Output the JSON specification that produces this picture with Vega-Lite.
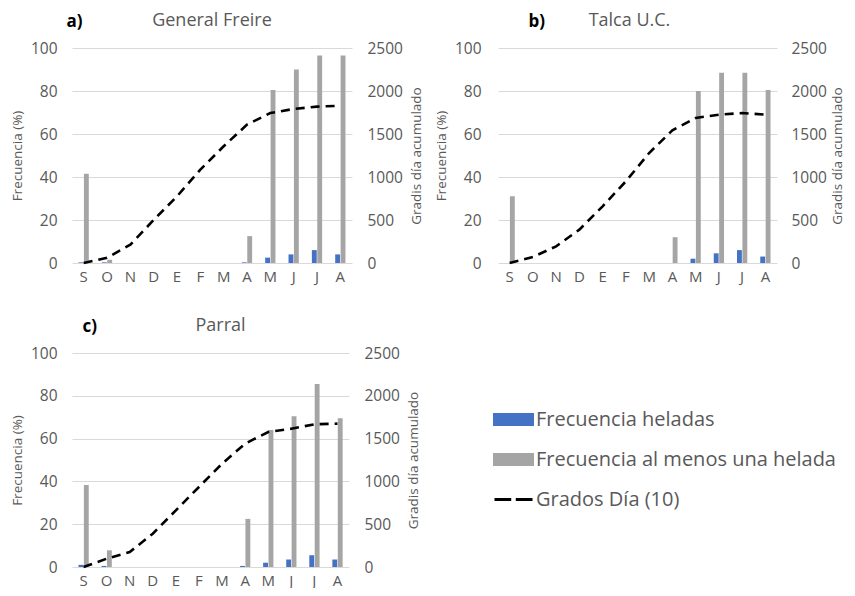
{
  "$schema": "https://vega.github.io/schema/vega-lite/v6.json",
  "background": "white",
  "padding": {"left": 10, "top": 12, "right": 0, "bottom": 0},
  "config": {
    "font": "Open Sans",
    "view": {"stroke": null},
    "axis": {"labelColor": "#595959", "labelFontSize": 15.5, "titleColor": "#595959", "titleFontSize": 13.5, "titleFontWeight": "normal", "ticks": false, "domain": false, "gridColor": "#d9d9d9"},
    "title": {"color": "#595959", "fontSize": 18, "fontWeight": "normal"},
    "legend": {
      "orient": "none", "legendX": 421, "legendY": 351, "title": null,
      "labelFontSize": 20, "labelColor": "#595959", "symbolSize": 1444, "rowPadding": 8, "labelOffset": 2, "padding": 0,
      "labelLimit": 400
    }
  },
  "datasets": {
    "freq": [
      {"site": "a", "mes": "Sep", "serie": "Frecuencia heladas", "valor": 0.3},
      {"site": "a", "mes": "Oct", "serie": "Frecuencia heladas", "valor": 0.3},
      {"site": "a", "mes": "Nov", "serie": "Frecuencia heladas", "valor": 0},
      {"site": "a", "mes": "Dic", "serie": "Frecuencia heladas", "valor": 0},
      {"site": "a", "mes": "Ene", "serie": "Frecuencia heladas", "valor": 0},
      {"site": "a", "mes": "Feb", "serie": "Frecuencia heladas", "valor": 0},
      {"site": "a", "mes": "Mar", "serie": "Frecuencia heladas", "valor": 0},
      {"site": "a", "mes": "Abr", "serie": "Frecuencia heladas", "valor": 0.3},
      {"site": "a", "mes": "May", "serie": "Frecuencia heladas", "valor": 2.5},
      {"site": "a", "mes": "Jun", "serie": "Frecuencia heladas", "valor": 4},
      {"site": "a", "mes": "Jul", "serie": "Frecuencia heladas", "valor": 6},
      {"site": "a", "mes": "Ago", "serie": "Frecuencia heladas", "valor": 4},
      {"site": "a", "mes": "Sep", "serie": "Frecuencia al menos una helada", "valor": 41.5},
      {"site": "a", "mes": "Oct", "serie": "Frecuencia al menos una helada", "valor": 1.5},
      {"site": "a", "mes": "Nov", "serie": "Frecuencia al menos una helada", "valor": 0},
      {"site": "a", "mes": "Dic", "serie": "Frecuencia al menos una helada", "valor": 0},
      {"site": "a", "mes": "Ene", "serie": "Frecuencia al menos una helada", "valor": 0},
      {"site": "a", "mes": "Feb", "serie": "Frecuencia al menos una helada", "valor": 0},
      {"site": "a", "mes": "Mar", "serie": "Frecuencia al menos una helada", "valor": 0},
      {"site": "a", "mes": "Abr", "serie": "Frecuencia al menos una helada", "valor": 12.5},
      {"site": "a", "mes": "May", "serie": "Frecuencia al menos una helada", "valor": 80.5},
      {"site": "a", "mes": "Jun", "serie": "Frecuencia al menos una helada", "valor": 90},
      {"site": "a", "mes": "Jul", "serie": "Frecuencia al menos una helada", "valor": 96.5},
      {"site": "a", "mes": "Ago", "serie": "Frecuencia al menos una helada", "valor": 96.5},
      {"site": "b", "mes": "Sep", "serie": "Frecuencia heladas", "valor": 0},
      {"site": "b", "mes": "Oct", "serie": "Frecuencia heladas", "valor": 0},
      {"site": "b", "mes": "Nov", "serie": "Frecuencia heladas", "valor": 0},
      {"site": "b", "mes": "Dic", "serie": "Frecuencia heladas", "valor": 0},
      {"site": "b", "mes": "Ene", "serie": "Frecuencia heladas", "valor": 0},
      {"site": "b", "mes": "Feb", "serie": "Frecuencia heladas", "valor": 0},
      {"site": "b", "mes": "Mar", "serie": "Frecuencia heladas", "valor": 0},
      {"site": "b", "mes": "Abr", "serie": "Frecuencia heladas", "valor": 0},
      {"site": "b", "mes": "May", "serie": "Frecuencia heladas", "valor": 2},
      {"site": "b", "mes": "Jun", "serie": "Frecuencia heladas", "valor": 4.5},
      {"site": "b", "mes": "Jul", "serie": "Frecuencia heladas", "valor": 6},
      {"site": "b", "mes": "Ago", "serie": "Frecuencia heladas", "valor": 3},
      {"site": "b", "mes": "Sep", "serie": "Frecuencia al menos una helada", "valor": 31},
      {"site": "b", "mes": "Oct", "serie": "Frecuencia al menos una helada", "valor": 0},
      {"site": "b", "mes": "Nov", "serie": "Frecuencia al menos una helada", "valor": 0},
      {"site": "b", "mes": "Dic", "serie": "Frecuencia al menos una helada", "valor": 0},
      {"site": "b", "mes": "Ene", "serie": "Frecuencia al menos una helada", "valor": 0},
      {"site": "b", "mes": "Feb", "serie": "Frecuencia al menos una helada", "valor": 0},
      {"site": "b", "mes": "Mar", "serie": "Frecuencia al menos una helada", "valor": 0},
      {"site": "b", "mes": "Abr", "serie": "Frecuencia al menos una helada", "valor": 12},
      {"site": "b", "mes": "May", "serie": "Frecuencia al menos una helada", "valor": 80},
      {"site": "b", "mes": "Jun", "serie": "Frecuencia al menos una helada", "valor": 88.5},
      {"site": "b", "mes": "Jul", "serie": "Frecuencia al menos una helada", "valor": 88.5},
      {"site": "b", "mes": "Ago", "serie": "Frecuencia al menos una helada", "valor": 80.5},
      {"site": "c", "mes": "Sep", "serie": "Frecuencia heladas", "valor": 1},
      {"site": "c", "mes": "Oct", "serie": "Frecuencia heladas", "valor": 0.5},
      {"site": "c", "mes": "Nov", "serie": "Frecuencia heladas", "valor": 0},
      {"site": "c", "mes": "Dic", "serie": "Frecuencia heladas", "valor": 0},
      {"site": "c", "mes": "Ene", "serie": "Frecuencia heladas", "valor": 0},
      {"site": "c", "mes": "Feb", "serie": "Frecuencia heladas", "valor": 0},
      {"site": "c", "mes": "Mar", "serie": "Frecuencia heladas", "valor": 0},
      {"site": "c", "mes": "Abr", "serie": "Frecuencia heladas", "valor": 0.5},
      {"site": "c", "mes": "May", "serie": "Frecuencia heladas", "valor": 2},
      {"site": "c", "mes": "Jun", "serie": "Frecuencia heladas", "valor": 3.5},
      {"site": "c", "mes": "Jul", "serie": "Frecuencia heladas", "valor": 5.5},
      {"site": "c", "mes": "Ago", "serie": "Frecuencia heladas", "valor": 3.5},
      {"site": "c", "mes": "Sep", "serie": "Frecuencia al menos una helada", "valor": 38.3},
      {"site": "c", "mes": "Oct", "serie": "Frecuencia al menos una helada", "valor": 7.8},
      {"site": "c", "mes": "Nov", "serie": "Frecuencia al menos una helada", "valor": 0},
      {"site": "c", "mes": "Dic", "serie": "Frecuencia al menos una helada", "valor": 0},
      {"site": "c", "mes": "Ene", "serie": "Frecuencia al menos una helada", "valor": 0},
      {"site": "c", "mes": "Feb", "serie": "Frecuencia al menos una helada", "valor": 0},
      {"site": "c", "mes": "Mar", "serie": "Frecuencia al menos una helada", "valor": 0},
      {"site": "c", "mes": "Abr", "serie": "Frecuencia al menos una helada", "valor": 22.5},
      {"site": "c", "mes": "May", "serie": "Frecuencia al menos una helada", "valor": 64},
      {"site": "c", "mes": "Jun", "serie": "Frecuencia al menos una helada", "valor": 70.5},
      {"site": "c", "mes": "Jul", "serie": "Frecuencia al menos una helada", "valor": 85.5},
      {"site": "c", "mes": "Ago", "serie": "Frecuencia al menos una helada", "valor": 69.5}
    ],
    "gd": [
      {"site": "a", "mes": "Sep", "gd": 0},
      {"site": "a", "mes": "Oct", "gd": 60},
      {"site": "a", "mes": "Nov", "gd": 213},
      {"site": "a", "mes": "Dic", "gd": 500},
      {"site": "a", "mes": "Ene", "gd": 775},
      {"site": "a", "mes": "Feb", "gd": 1085},
      {"site": "a", "mes": "Mar", "gd": 1357},
      {"site": "a", "mes": "Abr", "gd": 1609},
      {"site": "a", "mes": "May", "gd": 1744},
      {"site": "a", "mes": "Jun", "gd": 1791},
      {"site": "a", "mes": "Jul", "gd": 1818},
      {"site": "a", "mes": "Ago", "gd": 1829},
      {"site": "b", "mes": "Sep", "gd": 0},
      {"site": "b", "mes": "Oct", "gd": 70},
      {"site": "b", "mes": "Nov", "gd": 194},
      {"site": "b", "mes": "Dic", "gd": 388},
      {"site": "b", "mes": "Ene", "gd": 659},
      {"site": "b", "mes": "Feb", "gd": 950},
      {"site": "b", "mes": "Mar", "gd": 1279},
      {"site": "b", "mes": "Abr", "gd": 1543},
      {"site": "b", "mes": "May", "gd": 1686},
      {"site": "b", "mes": "Jun", "gd": 1725},
      {"site": "b", "mes": "Jul", "gd": 1744},
      {"site": "b", "mes": "Ago", "gd": 1725},
      {"site": "c", "mes": "Sep", "gd": 0},
      {"site": "c", "mes": "Oct", "gd": 97},
      {"site": "c", "mes": "Nov", "gd": 175},
      {"site": "c", "mes": "Dic", "gd": 389},
      {"site": "c", "mes": "Ene", "gd": 662},
      {"site": "c", "mes": "Feb", "gd": 935},
      {"site": "c", "mes": "Mar", "gd": 1207},
      {"site": "c", "mes": "Abr", "gd": 1441},
      {"site": "c", "mes": "May", "gd": 1577},
      {"site": "c", "mes": "Jun", "gd": 1616},
      {"site": "c", "mes": "Jul", "gd": 1667},
      {"site": "c", "mes": "Ago", "gd": 1675}
    ]
  },
  "vconcat": [
    {
      "hconcat": [
        {
          "width": 280, "height": 215,
          "title": {"text": "General Freire", "offset": -18},
          "layer": [
            {
              "data": {"name": "freq"},
              "transform": [{"filter": "datum.site === 'a'"}],
              "mark": {"type": "bar"},
              "encoding": {
                "x": {"field": "mes", "type": "nominal", "sort": ["Sep","Oct","Nov","Dic","Ene","Feb","Mar","Abr","May","Jun","Jul","Ago"], "scale": {"paddingInner": 0.56, "paddingOuter": 0.28}, "axis": {"title": null, "labelAngle": 0, "labelExpr": "slice(datum.label, 0, 1)", "labelPadding": 6, "labelFontSize": 15}},
                "xOffset": {"field": "serie", "scale": {"domain": ["Frecuencia heladas", "Frecuencia al menos una helada"], "paddingInner": 0.1, "paddingOuter": 0}},
                "y": {"field": "valor", "type": "quantitative", "scale": {"domain": [0, 100]}, "axis": {"title": "Frecuencia (%)", "titleFontWeight": "normal", "values": [0,20,40,60,80,100], "labelPadding": 15, "titlePadding": 6}},
                "color": {"field": "serie", "type": "nominal", "scale": {"domain": ["Frecuencia heladas", "Frecuencia al menos una helada", "Grados Día (10)"], "range": ["#4472C4", "#A5A5A5", "#000000"]},
                  "legend": {"encode": {"symbols": {"update": {
                    "shape": {"signal": "datum.value === 'Grados Día (10)' ? 'M-1,0H-0.12M0.12,0H1' : 'M-1,-0.26H1V0.26H-1Z'"},
                    "fill": {"signal": "datum.value === 'Frecuencia heladas' ? '#4472C4' : (datum.value === 'Frecuencia al menos una helada' ? '#A5A5A5' : 'transparent')"},
                    "stroke": {"signal": "datum.value === 'Grados Día (10)' ? '#000000' : 'transparent'"},
                    "strokeWidth": {"value": 3},
                    "opacity": {"value": 1},
                    "fillOpacity": {"value": 1}
                  }}}}}
              }
            },
            {
              "data": {"name": "gd"},
              "transform": [{"filter": "datum.site === 'a'"}],
              "mark": {"type": "line", "strokeDash": [9, 6], "strokeWidth": 2.6},
              "encoding": {
                "x": {"field": "mes", "type": "nominal", "sort": ["Sep","Oct","Nov","Dic","Ene","Feb","Mar","Abr","May","Jun","Jul","Ago"], "axis": {"orient": "top", "labels": false, "grid": false, "title": "a)", "titleAnchor": "start", "titleX": -6, "titleAlign": "left", "titleFontWeight": "bold", "titleFontSize": 17, "titleColor": "#000000", "titlePadding": 18}},
                "y": {"field": "gd", "type": "quantitative", "scale": {"domain": [0, 2500]}, "axis": {"orient": "right", "format": "d", "title": "Gradis día acumulado", "titleAngle": 270, "titleBaseline": "top", "titleFontWeight": "normal", "values": [0,500,1000,1500,2000,2500], "grid": false, "labelPadding": 15, "titlePadding": 7}},
                "color": {"datum": "Grados Día (10)"}
              }
            }
          ],
          "resolve": {"scale": {"y": "independent"}, "axis": {"x": "independent"}}
        },
        {
          "width": 279, "height": 215,
          "title": {"text": "Talca U.C.", "offset": -18, "dx": -8},
          "layer": [
            {
              "data": {"name": "freq"},
              "transform": [{"filter": "datum.site === 'b'"}],
              "mark": {"type": "bar"},
              "encoding": {
                "x": {"field": "mes", "type": "nominal", "sort": ["Sep","Oct","Nov","Dic","Ene","Feb","Mar","Abr","May","Jun","Jul","Ago"], "scale": {"paddingInner": 0.56, "paddingOuter": 0.28}, "axis": {"title": null, "labelAngle": 0, "labelExpr": "slice(datum.label, 0, 1)", "labelPadding": 6, "labelFontSize": 15}},
                "xOffset": {"field": "serie", "scale": {"domain": ["Frecuencia heladas", "Frecuencia al menos una helada"], "paddingInner": 0.1, "paddingOuter": 0}},
                "y": {"field": "valor", "type": "quantitative", "scale": {"domain": [0, 100]}, "axis": {"title": "Frecuencia (%)", "titleFontWeight": "normal", "values": [0,20,40,60,80,100], "labelPadding": 17, "titlePadding": 6}},
                "color": {"field": "serie", "type": "nominal"}
              }
            },
            {
              "data": {"name": "gd"},
              "transform": [{"filter": "datum.site === 'b'"}],
              "mark": {"type": "line", "strokeDash": [9, 6], "strokeWidth": 2.6},
              "encoding": {
                "x": {"field": "mes", "type": "nominal", "sort": ["Sep","Oct","Nov","Dic","Ene","Feb","Mar","Abr","May","Jun","Jul","Ago"], "axis": {"orient": "top", "labels": false, "grid": false, "title": "b)", "titleAnchor": "start", "titleX": 30, "titleAlign": "left", "titleFontWeight": "bold", "titleFontSize": 17, "titleColor": "#000000", "titlePadding": 18}},
                "y": {"field": "gd", "type": "quantitative", "scale": {"domain": [0, 2500]}, "axis": {"orient": "right", "format": "d", "title": "Gradis día acumulado", "titleAngle": 270, "titleBaseline": "top", "titleFontWeight": "normal", "values": [0,500,1000,1500,2000,2500], "grid": false, "labelPadding": 14, "titlePadding": 4}},
                "color": {"datum": "Grados Día (10)"}
              }
            }
          ],
          "resolve": {"scale": {"y": "independent"}, "axis": {"x": "independent"}}
        }
      ],
      "spacing": 11
    },
    {
      "hconcat": [
        {
          "width": 277, "height": 214,
          "title": {"text": "Parral", "offset": -18, "dx": 10},
          "layer": [
            {
              "data": {"name": "freq"},
              "transform": [{"filter": "datum.site === 'c'"}],
              "mark": {"type": "bar"},
              "encoding": {
                "x": {"field": "mes", "type": "nominal", "sort": ["Sep","Oct","Nov","Dic","Ene","Feb","Mar","Abr","May","Jun","Jul","Ago"], "scale": {"paddingInner": 0.56, "paddingOuter": 0.28}, "axis": {"title": null, "labelAngle": 0, "labelExpr": "slice(datum.label, 0, 1)", "labelPadding": 6, "labelFontSize": 15}},
                "xOffset": {"field": "serie", "scale": {"domain": ["Frecuencia heladas", "Frecuencia al menos una helada"], "paddingInner": 0.1, "paddingOuter": 0}},
                "y": {"field": "valor", "type": "quantitative", "scale": {"domain": [0, 100]}, "axis": {"title": "Frecuencia (%)", "titleFontWeight": "normal", "values": [0,20,40,60,80,100], "labelPadding": 15, "titlePadding": 6}},
                "color": {"field": "serie", "type": "nominal"}
              }
            },
            {
              "data": {"name": "gd"},
              "transform": [{"filter": "datum.site === 'c'"}],
              "mark": {"type": "line", "strokeDash": [9, 6], "strokeWidth": 2.6},
              "encoding": {
                "x": {"field": "mes", "type": "nominal", "sort": ["Sep","Oct","Nov","Dic","Ene","Feb","Mar","Abr","May","Jun","Jul","Ago"], "axis": {"orient": "top", "labels": false, "grid": false, "title": "c)", "titleAnchor": "start", "titleX": 10, "titleAlign": "left", "titleFontWeight": "bold", "titleFontSize": 17, "titleColor": "#000000", "titlePadding": 18}},
                "y": {"field": "gd", "type": "quantitative", "scale": {"domain": [0, 2500]}, "axis": {"orient": "right", "format": "d", "title": "Gradis día acumulado", "titleAngle": 270, "titleBaseline": "top", "titleFontWeight": "normal", "values": [0,500,1000,1500,2000,2500], "grid": false, "labelPadding": 15, "titlePadding": 7}},
                "color": {"datum": "Grados Día (10)"}
              }
            }
          ],
          "resolve": {"scale": {"y": "independent"}, "axis": {"x": "independent"}}
        }
      ]
    }
  ],
  "spacing": 33
}
